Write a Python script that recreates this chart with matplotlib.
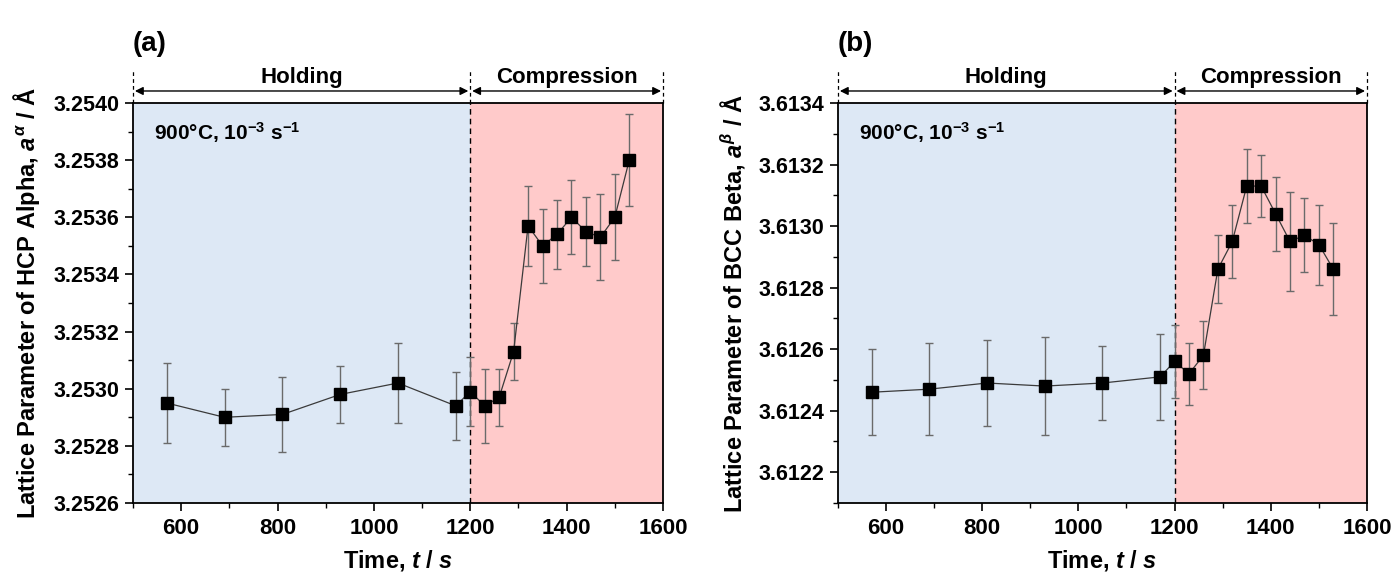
import matplotlib
matplotlib.use("Agg")
import matplotlib.pyplot as plt
from matplotlib.ticker import MultipleLocator, FormatStrFormatter
import matplotlib.transforms as mtransforms
from matplotlib import font_manager

plt.rcParams['font.family'] = ['Liberation Sans', 'DejaVu Sans']
plt.rcParams['font.weight'] = 'bold'
plt.rcParams['mathtext.fontset'] = 'custom'
plt.rcParams['mathtext.rm'] = 'Liberation Sans:bold'
plt.rcParams['mathtext.it'] = 'Liberation Sans:italic:bold'
plt.rcParams['mathtext.bf'] = 'Liberation Sans:bold'

names = {f.name for f in font_manager.fontManager.ttflist}
NARROW = 'Liberation Sans Narrow' if 'Liberation Sans Narrow' in names else None
narrow_family = [NARROW, 'Liberation Sans'] if NARROW else ['Liberation Sans']
nscale = 1.18 if NARROW else 1.0

# ---------------- data ----------------
time_a = [570, 690, 810, 930, 1050, 1170, 1200, 1230, 1260, 1290, 1320, 1350, 1380, 1410, 1440, 1470, 1500, 1530]
lat_a = [3.25295, 3.25290, 3.25291, 3.25298, 3.25302, 3.25294, 3.25299, 3.25294, 3.25297, 3.25313,
         3.25357, 3.25350, 3.25354, 3.25360, 3.25355, 3.25353, 3.25360, 3.25380]
err_a = [0.00014, 0.00010, 0.00013, 0.00010, 0.00014, 0.00012, 0.00012, 0.00013, 0.00010, 0.00010,
         0.00014, 0.00013, 0.00012, 0.00013, 0.00012, 0.00015, 0.00015, 0.00016]

time_b = [570, 690, 810, 930, 1050, 1170, 1200, 1230, 1260, 1290, 1320, 1350, 1380, 1410, 1440, 1470, 1500, 1530]
lat_b = [3.61246, 3.61247, 3.61249, 3.61248, 3.61249, 3.61251, 3.61256, 3.61252, 3.61258, 3.61286,
         3.61295, 3.61313, 3.61313, 3.61304, 3.61295, 3.61297, 3.61294, 3.61286]
err_b = [0.00014, 0.00015, 0.00014, 0.00016, 0.00012, 0.00014, 0.00012, 0.00010, 0.00011, 0.00011,
         0.00012, 0.00012, 0.00010, 0.00012, 0.00016, 0.00012, 0.00013, 0.00015]

phases = ["Holding", "Compression"]
phase_bounds = [500, 1200, 1600]
phase_colors = ["#dde8f5", "#ffcaca"]
panel_labels = ["(a)", "(b)"]
ylabels = [r"Lattice Parameter of HCP Alpha, $a^{\alpha}$ / Å",
           r"Lattice Parameter of BCC Beta, $a^{\beta}$ / Å"]
condition = r"900°C, 10$^{-3}$ s$^{-1}$"
ylims = [(3.2526, 3.2540), (3.6121, 3.6134)]

# ---------------- figure ----------------
fig = plt.figure(figsize=(13.94, 5.76), dpi=100)
positions = [[0.0954, 0.1267, 0.3802, 0.6945], [0.6011, 0.1267, 0.3795, 0.6945]]
datasets = [(time_a, lat_a, err_a), (time_b, lat_b, err_b)]

for i in range(2):
    ax = fig.add_axes(positions[i])
    t, v, e = datasets[i]
    for k in range(2):
        ax.axvspan(phase_bounds[k], phase_bounds[k + 1], color=phase_colors[k], lw=0, zorder=0)
    ax.axvline(phase_bounds[1], color='black', ls=(0, (4, 3)), lw=1.0, zorder=1)
    ax.errorbar(t, v, yerr=e, fmt='none', ecolor='#6a6a6a', elinewidth=1.0,
                capsize=3, capthick=1.0, zorder=2)
    ax.plot(t, v, color='#3a3a3a', lw=0.9, marker='s', ms=8,
            mfc='black', mec='black', zorder=3)

    ax.set_xlim(500, 1600)
    ax.set_ylim(*ylims[i])
    ax.xaxis.set_major_locator(MultipleLocator(200))
    ax.xaxis.set_minor_locator(MultipleLocator(100))
    ax.yaxis.set_major_locator(MultipleLocator(0.0002))
    ax.yaxis.set_minor_locator(MultipleLocator(0.0001))
    ax.yaxis.set_major_formatter(FormatStrFormatter('%.4f'))
    ax.set_xticks([600, 800, 1000, 1200, 1400, 1600])
    ax.tick_params(axis='both', which='major', direction='out', length=6, width=1.2)
    ax.tick_params(axis='both', which='minor', direction='out', length=3.5, width=1.0)
    ax.tick_params(axis='y', labelsize=15.5, pad=4)
    ax.tick_params(axis='x', labelsize=16 * nscale, pad=5)
    for lab in ax.get_yticklabels():
        lab.set_fontweight('bold')
    for lab in ax.get_xticklabels():
        lab.set_fontweight('bold')
        lab.set_family(narrow_family)
    for sp in ax.spines.values():
        sp.set_linewidth(1.3)

    ax.set_xlabel(r"Time, $t$ / $s$", fontsize=17, fontweight='bold', labelpad=6)
    ax.set_ylabel(ylabels[i], fontsize=17, fontweight='bold', labelpad=8)

    ax.text(0.04, 0.925, condition, transform=ax.transAxes, fontsize=15,
            fontweight='bold', va='center', ha='left')

    # top annotations
    trans = mtransforms.blended_transform_factory(ax.transData, ax.transAxes)
    for xb in phase_bounds:
        ax.plot([xb, xb], [1.0, 1.085], transform=trans, color='black',
                ls=(0, (3, 2.5)), lw=0.9, clip_on=False)
    for k in range(2):
        x0, x1 = phase_bounds[k], phase_bounds[k + 1]
        ax.annotate("", xy=(x1 - 4, 1.03), xytext=(x0 + 4, 1.03), xycoords=trans,
                    textcoords=trans,
                    arrowprops=dict(arrowstyle='<|-|>', color='black', lw=1.0,
                                    mutation_scale=12, shrinkA=0, shrinkB=0))
        ax.text((x0 + x1) / 2, 1.05, phases[k], transform=trans, ha='center',
                va='baseline', fontsize=16 * nscale, fontweight='bold', family=narrow_family)
    ax.text(0.0, 1.13, panel_labels[i], transform=ax.transAxes, ha='left',
            va='baseline', fontsize=20 * nscale, fontweight='bold', family=narrow_family)

fig.savefig("out.png", dpi=100)
